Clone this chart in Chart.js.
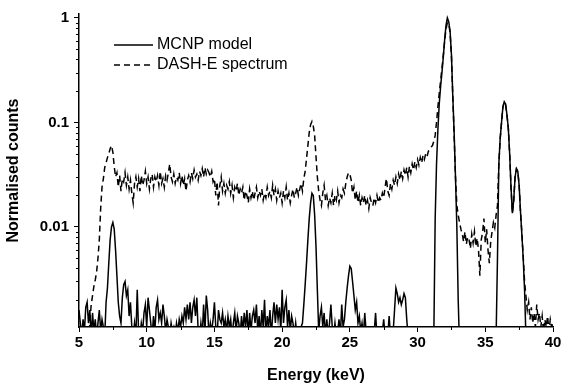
<!DOCTYPE html>
<html>
<head>
<meta charset="utf-8">
<script src="https://cdn.jsdelivr.net/npm/chart.js@4.4.1/dist/chart.umd.min.js"></script>
<style>
  html, body { margin: 0; padding: 0; background: #fff; }
  #wrap { width: 564px; height: 388px; position: relative; }
</style>
</head>
<body>
<div id="wrap"><canvas id="spectrumChart"></canvas></div>
<script>
    // Spectrum channels: 5.0 to 40.0 keV, one value every 0.1 keV
    const energyStart = 5.0;
    const energyStep = 0.1;

    // MCNP model (solid line), one row per keV
    const mcnpCounts = [
        0.0016, 0.0012, 0.0009, 0.0013, 0.0010, 0.0017, 0.0019, 0.0012, 0.0016, 0.0009, // 5
        0.0015, 0.0010, 0.0013, 0.0009, 0.0012, 0.0016, 0.0010, 0.0013, 0.0011, 0.0009, // 6
        0.0019, 0.0026, 0.0045, 0.0075, 0.0100, 0.0110, 0.0095, 0.0060, 0.0034, 0.0019, // 7
        0.0014, 0.0012, 0.0021, 0.0028, 0.0030, 0.0022, 0.0025, 0.0014, 0.0019, 0.0011, // 8
        0.0009, 0.0012, 0.0009, 0.0025, 0.0010, 0.0009, 0.0012, 0.0010, 0.0015, 0.0018, // 9
        0.0011, 0.0021, 0.0016, 0.0012, 0.0009, 0.0014, 0.0010, 0.0017, 0.0020, 0.0013, // 10
        0.0015, 0.0012, 0.0018, 0.0014, 0.0010, 0.0013, 0.0011, 0.0009, 0.0012, 0.0010, // 11
        0.0011, 0.0009, 0.0012, 0.0010, 0.0013, 0.0011, 0.0014, 0.0012, 0.0017, 0.0013, // 12
        0.0018, 0.0013, 0.0019, 0.0012, 0.0017, 0.0020, 0.0014, 0.0021, 0.0010, 0.0009, // 13
        0.0012, 0.0009, 0.0018, 0.0010, 0.0022, 0.0016, 0.0009, 0.0012, 0.0010, 0.0013, // 14
        0.0019, 0.0011, 0.0009, 0.0016, 0.0013, 0.0012, 0.0015, 0.0011, 0.0013, 0.0010, // 15
        0.0014, 0.0011, 0.0013, 0.0009, 0.0012, 0.0015, 0.0010, 0.0014, 0.0012, 0.0009, // 16
        0.0014, 0.0010, 0.0015, 0.0011, 0.0016, 0.0009, 0.0015, 0.0010, 0.0014, 0.0016, // 17
        0.0012, 0.0018, 0.0010, 0.0014, 0.0009, 0.0016, 0.0011, 0.0020, 0.0009, 0.0014, // 18
        0.0011, 0.0016, 0.0009, 0.0014, 0.0019, 0.0012, 0.0018, 0.0013, 0.0017, 0.0010, // 19
        0.0025, 0.0012, 0.0017, 0.0020, 0.0011, 0.0016, 0.0010, 0.0014, 0.0012, 0.0009, // 20
        0.0012, 0.0009, 0.0010, 0.0008, 0.0011, 0.0012, 0.0018, 0.0028, 0.0045, 0.0075, // 21
        0.0120, 0.0170, 0.0210, 0.0200, 0.0130, 0.0065, 0.0025, 0.0010, 0.0014, 0.0017, // 22
        0.0011, 0.0015, 0.0009, 0.0013, 0.0009, 0.0012, 0.0018, 0.0011, 0.0009, 0.0012, // 23
        0.0009, 0.0010, 0.0013, 0.0009, 0.0018, 0.0011, 0.0013, 0.0019, 0.0026, 0.0034, // 24
        0.0042, 0.0040, 0.0030, 0.0022, 0.0016, 0.0019, 0.0012, 0.0014, 0.0010, 0.0012, // 25
        0.0009, 0.0015, 0.0010, 0.0009, 0.0008, 0.0009, 0.0008, 0.0009, 0.0010, 0.0015, // 26
        0.0009, 0.0008, 0.0009, 0.0008, 0.0010, 0.0013, 0.0009, 0.0008, 0.0009, 0.0014, // 27
        0.0009, 0.0008, 0.0010, 0.0016, 0.0026, 0.0023, 0.0019, 0.0021, 0.0018, 0.0020, // 28
        0.0023, 0.0021, 0.0013, 0.0009, 0.0008, 0.0007, 0.0007, 0.0007, 0.0007, 0.0007, // 29
        0.0007, 0.0007, 0.0007, 0.0007, 0.0007, 0.0007, 0.0007, 0.0007, 0.0007, 0.0007, // 30
        0.0007, 0.0007, 0.0009, 0.0120, 0.0400, 0.0850, 0.1500, 0.2200, 0.3000, 0.4200, // 31
        0.6200, 0.8500, 1.0000, 0.9200, 0.7500, 0.4500, 0.1800, 0.0800, 0.0300, 0.0100, // 32
        0.0020, 0.0007, 0.0007, 0.0007, 0.0007, 0.0007, 0.0007, 0.0007, 0.0007, 0.0007, // 33
        0.0007, 0.0007, 0.0007, 0.0007, 0.0007, 0.0007, 0.0007, 0.0007, 0.0007, 0.0007, // 34
        0.0007, 0.0007, 0.0007, 0.0007, 0.0007, 0.0007, 0.0007, 0.0007, 0.0009, 0.0050, // 35
        0.0400, 0.0700, 0.1000, 0.1400, 0.1580, 0.1500, 0.1180, 0.0880, 0.0500, 0.0240, // 36
        0.0135, 0.0180, 0.0300, 0.0360, 0.0340, 0.0250, 0.0140, 0.0085, 0.0050, 0.0025, // 37
        0.0009, 0.0007, 0.0007, 0.0007, 0.0007, 0.0007, 0.0007, 0.0007, 0.0007, 0.0007, // 38
        0.0007, 0.0007, 0.0007, 0.0007, 0.0007, 0.0007, 0.0007, 0.0007, 0.0007, 0.0007, // 39
        0.0007                                                                          // 40
    ];

    // DASH-E measured spectrum (dashed line), one row per keV
    const dashCounts = [
        0.0008, 0.0008, 0.0008, 0.0008, 0.0008, 0.0008, 0.0008, 0.0008, 0.0012, 0.0018, // 5
        0.0022, 0.0027, 0.0031, 0.0037, 0.0050, 0.0075, 0.0150, 0.0240, 0.0290, 0.0370, // 6
        0.0410, 0.0460, 0.0500, 0.0560, 0.0600, 0.0520, 0.0380, 0.0300, 0.0330, 0.0240, // 7
        0.031, 0.022, 0.029, 0.027, 0.033, 0.025, 0.030, 0.023, 0.028, 0.021,           // 8
        0.017, 0.026, 0.030, 0.024, 0.029, 0.022, 0.031, 0.025, 0.028, 0.034,           // 9
        0.026, 0.030, 0.023, 0.029, 0.032, 0.024, 0.030, 0.027, 0.031, 0.025,           // 10
        0.034, 0.026, 0.029, 0.024, 0.031, 0.028, 0.033, 0.040, 0.030, 0.027,           // 11
        0.032, 0.026, 0.030, 0.028, 0.033, 0.026, 0.031, 0.025, 0.029, 0.022,           // 12
        0.028, 0.031, 0.027, 0.033, 0.029, 0.035, 0.030, 0.032, 0.028, 0.034,           // 13
        0.031, 0.036, 0.030, 0.037, 0.032, 0.035, 0.033, 0.030, 0.034, 0.027,           // 14
        0.029, 0.020, 0.027, 0.016, 0.025, 0.030, 0.022, 0.026, 0.021, 0.025,           // 15
        0.023, 0.027, 0.021, 0.025, 0.019, 0.024, 0.022, 0.026, 0.020, 0.023,           // 16
        0.021, 0.024, 0.018, 0.022, 0.020, 0.017, 0.023, 0.019, 0.022, 0.018,           // 17
        0.021, 0.024, 0.019, 0.022, 0.020, 0.023, 0.018, 0.021, 0.019, 0.024,           // 18
        0.020, 0.022, 0.019, 0.025, 0.020, 0.023, 0.018, 0.022, 0.019, 0.021,           // 19
        0.017, 0.022, 0.019, 0.024, 0.018, 0.021, 0.017, 0.020, 0.023, 0.019,           // 20
        0.021, 0.024, 0.020, 0.023, 0.026, 0.022, 0.029, 0.034, 0.045, 0.060,           // 21
        0.080, 0.095, 0.102, 0.092, 0.075, 0.047, 0.030, 0.022, 0.018, 0.016,           // 22
        0.021, 0.025, 0.018, 0.020, 0.016, 0.019, 0.017, 0.021, 0.016, 0.020,           // 23
        0.018, 0.022, 0.017, 0.020, 0.019, 0.023, 0.021, 0.026, 0.030, 0.033,           // 24
        0.032, 0.028, 0.021, 0.024, 0.018, 0.022, 0.017, 0.020, 0.016, 0.019,           // 25
        0.017, 0.020, 0.016, 0.018, 0.015, 0.019, 0.017, 0.016, 0.019, 0.017,           // 26
        0.020, 0.017, 0.019, 0.018, 0.021, 0.019, 0.024, 0.029, 0.022, 0.020,           // 27
        0.026, 0.023, 0.028, 0.025, 0.030, 0.026, 0.032, 0.028, 0.034, 0.029,           // 28
        0.035, 0.031, 0.037, 0.030, 0.038, 0.033, 0.040, 0.035, 0.042, 0.037,           // 29
        0.044, 0.039, 0.046, 0.041, 0.048, 0.044, 0.050, 0.047, 0.053, 0.055,           // 30
        0.058, 0.060, 0.066, 0.075, 0.100, 0.140, 0.190, 0.250, 0.330, 0.440,           // 31
        0.600, 0.780, 0.900, 0.880, 0.720, 0.440, 0.180, 0.075, 0.030, 0.016,           // 32
        0.013, 0.011, 0.0095, 0.0085, 0.0072, 0.0090, 0.0068, 0.0080, 0.0076, 0.0062,   // 33
        0.0085, 0.0070, 0.0090, 0.0065, 0.0078, 0.0060, 0.0034, 0.0075, 0.0088, 0.012,  // 34
        0.0070, 0.0095, 0.0060, 0.0045, 0.0072, 0.0090, 0.011, 0.0098, 0.013, 0.016,    // 35
        0.040, 0.070, 0.100, 0.140, 0.156, 0.148, 0.118, 0.088, 0.050, 0.024,           // 36
        0.0135, 0.018, 0.030, 0.036, 0.034, 0.025, 0.014, 0.0088, 0.0052, 0.0030,       // 37
        0.0022, 0.0016, 0.0019, 0.0013, 0.0017, 0.0012, 0.0015, 0.0011, 0.0018, 0.0013, // 38
        0.0015, 0.0011, 0.0014, 0.0010, 0.0013, 0.0011, 0.0014, 0.0010, 0.0013, 0.0011, // 39
        0.0012                                                                          // 40
    ];

    // Axis ticks
    const xMajorTicks = [5, 10, 15, 20, 25, 30, 35, 40];
    const xMinorTicks = [7.5, 12.5, 17.5, 22.5, 27.5, 32.5, 37.5];
    const yMajorTicks = [0.01, 0.1, 1];
    const yMinorTicks = [0.002, 0.003, 0.004, 0.005, 0.006, 0.007, 0.008, 0.009,
                         0.02, 0.03, 0.04, 0.05, 0.06, 0.07, 0.08, 0.09,
                         0.2, 0.3, 0.4, 0.5, 0.6, 0.7, 0.8, 0.9];

    const toPoints = vals => vals.map((v, i) => ({
        x: +(energyStart + i * energyStep).toFixed(1),
        y: v
    }));

    const fontFamily = '"Liberation Sans", Arial, sans-serif';

    // Short minor tick marks on both axes
    const minorTicks = {
        id: 'minorTicks',
        afterDraw(chart) {
            const { ctx, chartArea, scales: { x, y } } = chart;
            ctx.save();
            ctx.strokeStyle = '#000';
            ctx.lineWidth = 1;
            yMinorTicks.forEach(v => {
                const py = Math.round(y.getPixelForValue(v)) + 0.5;
                ctx.beginPath();
                ctx.moveTo(chartArea.left - 3, py);
                ctx.lineTo(chartArea.left, py);
                ctx.stroke();
            });
            xMinorTicks.forEach(v => {
                const px = Math.round(x.getPixelForValue(v)) + 0.5;
                ctx.beginPath();
                ctx.moveTo(px, chartArea.bottom);
                ctx.lineTo(px, chartArea.bottom + 3);
                ctx.stroke();
            });
            ctx.restore();
        }
    };

    // Legend drawn inside the plot, top left
    const insideLegend = {
        id: 'insideLegend',
        afterDraw(chart) {
            const { ctx, chartArea } = chart;
            chart.data.datasets.forEach((ds, i) => {
                const x0 = chartArea.left + 35;
                const y = chartArea.top + 31 + i * 20;
                ctx.save();
                ctx.strokeStyle = ds.borderColor;
                ctx.lineWidth = ds.borderWidth;
                ctx.setLineDash(ds.borderDash || []);
                ctx.beginPath();
                ctx.moveTo(x0, y);
                ctx.lineTo(x0 + 39, y);
                ctx.stroke();
                ctx.setLineDash([]);
                ctx.fillStyle = '#000';
                ctx.font = '16px ' + fontFamily;
                ctx.textBaseline = 'middle';
                ctx.fillText(ds.label, x0 + 43, y);
                ctx.restore();
            });
        }
    };

    const data = {
        datasets: [
            {
                label: 'MCNP model',
                data: toPoints(mcnpCounts),
                borderColor: '#000',
                borderWidth: 1.5,
                pointRadius: 0,
                tension: 0
            },
            {
                label: 'DASH-E spectrum',
                data: toPoints(dashCounts),
                borderColor: '#000',
                borderWidth: 1.5,
                borderDash: [6, 4],
                pointRadius: 0,
                tension: 0
            }
        ]
    };

    const tickFont = { family: fontFamily, size: 15, weight: 'bold' };
    const titleFont = { family: fontFamily, size: 16, weight: 'bold' };

    const config = {
        type: 'line',
        data: data,
        options: {
            responsive: true,
            maintainAspectRatio: false,
            animation: false,
            layout: { padding: { top: 12, right: 11, bottom: 0, left: 0 } },
            plugins: {
                legend: { display: false },
                tooltip: { enabled: false }
            },
            scales: {
                x: {
                    type: 'linear',
                    min: 5,
                    max: 40,
                    afterFit: s => { s.height = 61; },
                    afterBuildTicks: s => { s.ticks = xMajorTicks.map(v => ({ value: v })); },
                    ticks: {
                        autoSkip: false,
                        maxRotation: 0,
                        padding: 2,
                        color: '#000',
                        font: tickFont,
                        callback: v => String(v)
                    },
                    grid: { drawOnChartArea: false, tickLength: 5, tickWidth: 1, tickColor: '#000' },
                    border: { color: '#000', width: 1.5 },
                    title: {
                        display: true,
                        text: 'Energy (keV)',
                        color: '#000',
                        font: titleFont,
                        padding: { top: 0, bottom: 3 }
                    }
                },
                y: {
                    type: 'logarithmic',
                    min: 0.0011,
                    max: 1.09,
                    afterFit: s => { s.width = 79; },
                    afterBuildTicks: s => { s.ticks = yMajorTicks.map(v => ({ value: v })); },
                    ticks: {
                        autoSkip: false,
                        padding: 5,
                        color: '#000',
                        font: tickFont,
                        callback: v => String(v)
                    },
                    grid: { drawOnChartArea: false, tickLength: 5, tickWidth: 1, tickColor: '#000' },
                    border: { color: '#000', width: 1.5 },
                    title: {
                        display: true,
                        text: 'Normalised counts',
                        color: '#000',
                        font: titleFont,
                        padding: { top: 4, bottom: 0 }
                    }
                }
            }
        },
        plugins: [minorTicks, insideLegend]
    };

    const spectrumChart = new Chart(
        document.getElementById('spectrumChart'),
        config
    );
</script>
</body>
</html>
